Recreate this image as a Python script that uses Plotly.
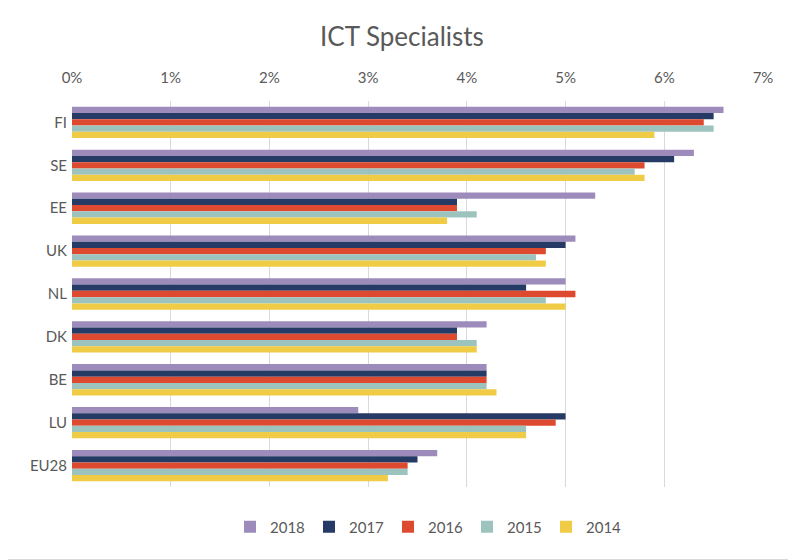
import plotly.graph_objects as go

countries = ["FI", "SE", "EE", "UK", "NL", "DK", "BE", "LU", "EU28"]
years = ["2018", "2017", "2016", "2015", "2014"]
v2018 = [6.6, 6.3, 5.3, 5.1, 5.0, 4.2, 4.2, 2.9, 3.7]
v2017 = [6.5, 6.1, 3.9, 5.0, 4.6, 3.9, 4.2, 5.0, 3.5]
v2016 = [6.4, 5.8, 3.9, 4.8, 5.1, 3.9, 4.2, 4.9, 3.4]
v2015 = [6.5, 5.7, 4.1, 4.7, 4.8, 4.1, 4.2, 4.6, 3.4]
v2014 = [5.9, 5.8, 3.8, 4.8, 5.0, 4.1, 4.3, 4.6, 3.2]
series = [v2018, v2017, v2016, v2015, v2014]
colors = ["#9D8CBB", "#263A66", "#DE4A2F", "#9DC3BE", "#F0CB45"]

fig = go.Figure()
for name, vals, col in zip(years, series, colors):
    fig.add_trace(go.Bar(
        y=countries, x=[v / 100 for v in vals], name=name, orientation="h",
        marker=dict(color=col, line=dict(width=0)),
    ))

OFF = 8  # page body margin
W, H = 796 - OFF, 560 - OFF
L = 72 - OFF
T = 101 - OFF
R = W - (763 - OFF)
B = H - (487 - OFF)
pw, ph = W - L - R, H - T - B

fig.update_layout(
    width=W, height=H,
    margin=dict(l=L, r=R, t=T, b=B, autoexpand=False),
    barmode="group", bargap=0.27, bargroupgap=0,
    plot_bgcolor="white", paper_bgcolor="white",
    font=dict(family="Lato, Open Sans, sans-serif", color="#595959", size=15),
    title=dict(text="ICT Specialists", x=0.5, xanchor="center",
               y=1 - (37 - OFF) / H, yanchor="middle",
               font=dict(size=26, color="#595959")),
    xaxis=dict(side="top", range=[0, 0.07], dtick=0.01, tickformat=".0%", automargin=False,
               showgrid=True, gridcolor="#D9D9D9", gridwidth=1, zeroline=False,
               showline=False, ticks="", tickfont=dict(size=15), ticklabelstandoff=14),
    yaxis=dict(autorange="reversed", showgrid=False, showline=False, ticks="", automargin=False,
               tickfont=dict(size=15), ticklabelstandoff=4),
    legend=dict(orientation="h", x=(230 - 72) / pw, xanchor="left",
                y=-(527 - 487) / ph, yanchor="middle",
                font=dict(size=15), traceorder="normal", itemwidth=30,
                entrywidth=34, entrywidthmode="pixels"),
    shapes=[
        dict(type="line", xref="paper", yref="paper",
             x0=1 + (R - 0.5) / pw, x1=1 + (R - 0.5) / pw, y0=-B / ph, y1=1 + T / ph,
             line=dict(color="#D9D9D9", width=1)),
        dict(type="line", xref="paper", yref="paper",
             x0=-L / pw, x1=1 + R / pw, y0=-(B - 0.5) / ph, y1=-(B - 0.5) / ph,
             line=dict(color="#D9D9D9", width=1)),
    ],
)

fig.write_html("out.html")
